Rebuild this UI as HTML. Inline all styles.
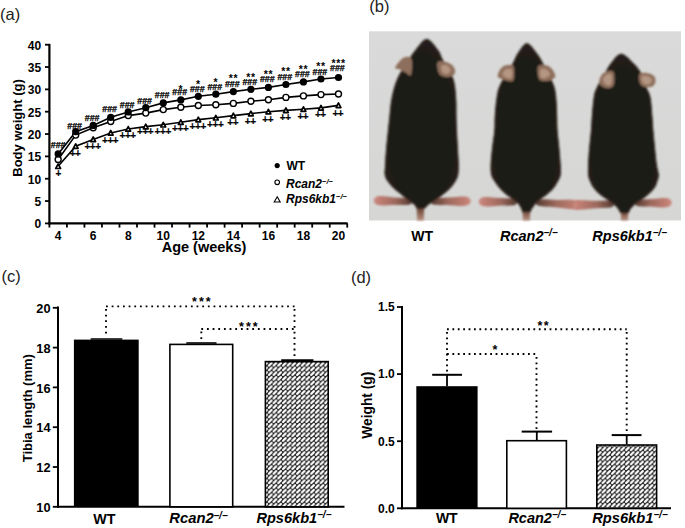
<!DOCTYPE html>
<html><head><meta charset="utf-8"><style>
html,body{margin:0;padding:0;background:#fff;}
svg{display:block;font-family:"Liberation Sans",sans-serif;}
</style></head><body>
<svg width="685" height="528" viewBox="0 0 685 528">
<defs>
<linearGradient id="bg" x1="0" y1="0" x2="0" y2="1">
 <stop offset="0" stop-color="#d9dad9"/><stop offset="1" stop-color="#d6d7d5"/>
</linearGradient>
<radialGradient id="fur" cx="0.5" cy="0.55" r="0.62">
 <stop offset="0" stop-color="#1b1a16"/><stop offset="0.75" stop-color="#1f1c18"/><stop offset="1" stop-color="#2c231e"/>
</radialGradient>
<linearGradient id="foot2" x1="0" y1="0" x2="1" y2="0">
 <stop offset="0" stop-color="#c4877c"/><stop offset="1" stop-color="#9a7166"/>
</linearGradient>
<linearGradient id="foot1" x1="0" y1="0" x2="1" y2="0">
 <stop offset="0" stop-color="#9a7166"/><stop offset="1" stop-color="#c4877c"/>
</linearGradient>
<linearGradient id="tailg" x1="0" y1="0" x2="0" y2="1">
 <stop offset="0" stop-color="#3a2a22"/><stop offset="0.35" stop-color="#6e4a3c"/><stop offset="1" stop-color="#b89080"/>
</linearGradient>
<filter id="soft" x="-10%" y="-10%" width="120%" height="120%"><feGaussianBlur stdDeviation="0.8"/></filter>
<pattern id="hatch" patternUnits="userSpaceOnUse" width="4.7" height="4.7">
 <rect width="4.7" height="4.7" fill="#262626"/>
 <path d="M1.05,3.65 L3.65,1.05" stroke="#fff" stroke-width="2.1" stroke-linecap="round"/>
</pattern>
</defs>
<rect width="685" height="528" fill="#fff"/>
<text x="0.00" y="20.00" font-size="16.5" font-weight="normal" font-style="normal" text-anchor="start" fill="#222" >(a)</text>
<text x="369.30" y="12.10" font-size="16.5" font-weight="normal" font-style="normal" text-anchor="start" fill="#222" >(b)</text>
<text x="1.60" y="282.20" font-size="16.5" font-weight="normal" font-style="normal" text-anchor="start" fill="#222" >(c)</text>
<text x="350.90" y="283.00" font-size="16.5" font-weight="normal" font-style="normal" text-anchor="start" fill="#222" >(d)</text>
<line x1="49.40" y1="43.90" x2="49.40" y2="224.40" stroke="#000" stroke-width="2.2" />
<line x1="48.40" y1="223.40" x2="347.60" y2="223.40" stroke="#000" stroke-width="2.2" />
<line x1="45.00" y1="223.40" x2="49.40" y2="223.40" stroke="#000" stroke-width="1.8" />
<text x="41.20" y="228.40" font-size="12" font-weight="bold" font-style="normal" text-anchor="end" fill="#000" >0</text>
<line x1="45.00" y1="201.06" x2="49.40" y2="201.06" stroke="#000" stroke-width="1.8" />
<text x="41.20" y="206.06" font-size="12" font-weight="bold" font-style="normal" text-anchor="end" fill="#000" >5</text>
<line x1="45.00" y1="178.72" x2="49.40" y2="178.72" stroke="#000" stroke-width="1.8" />
<text x="41.20" y="183.72" font-size="12" font-weight="bold" font-style="normal" text-anchor="end" fill="#000" >10</text>
<line x1="45.00" y1="156.39" x2="49.40" y2="156.39" stroke="#000" stroke-width="1.8" />
<text x="41.20" y="161.39" font-size="12" font-weight="bold" font-style="normal" text-anchor="end" fill="#000" >15</text>
<line x1="45.00" y1="134.05" x2="49.40" y2="134.05" stroke="#000" stroke-width="1.8" />
<text x="41.20" y="139.05" font-size="12" font-weight="bold" font-style="normal" text-anchor="end" fill="#000" >20</text>
<line x1="45.00" y1="111.71" x2="49.40" y2="111.71" stroke="#000" stroke-width="1.8" />
<text x="41.20" y="116.71" font-size="12" font-weight="bold" font-style="normal" text-anchor="end" fill="#000" >25</text>
<line x1="45.00" y1="89.38" x2="49.40" y2="89.38" stroke="#000" stroke-width="1.8" />
<text x="41.20" y="94.38" font-size="12" font-weight="bold" font-style="normal" text-anchor="end" fill="#000" >30</text>
<line x1="45.00" y1="67.04" x2="49.40" y2="67.04" stroke="#000" stroke-width="1.8" />
<text x="41.20" y="72.04" font-size="12" font-weight="bold" font-style="normal" text-anchor="end" fill="#000" >35</text>
<line x1="45.00" y1="44.70" x2="49.40" y2="44.70" stroke="#000" stroke-width="1.8" />
<text x="41.20" y="49.70" font-size="12" font-weight="bold" font-style="normal" text-anchor="end" fill="#000" >40</text>
<line x1="49.40" y1="223.40" x2="49.40" y2="227.60" stroke="#000" stroke-width="1.8" />
<line x1="66.92" y1="223.40" x2="66.92" y2="227.60" stroke="#000" stroke-width="1.8" />
<line x1="84.44" y1="223.40" x2="84.44" y2="227.60" stroke="#000" stroke-width="1.8" />
<line x1="101.96" y1="223.40" x2="101.96" y2="227.60" stroke="#000" stroke-width="1.8" />
<line x1="119.48" y1="223.40" x2="119.48" y2="227.60" stroke="#000" stroke-width="1.8" />
<line x1="137.00" y1="223.40" x2="137.00" y2="227.60" stroke="#000" stroke-width="1.8" />
<line x1="154.52" y1="223.40" x2="154.52" y2="227.60" stroke="#000" stroke-width="1.8" />
<line x1="172.04" y1="223.40" x2="172.04" y2="227.60" stroke="#000" stroke-width="1.8" />
<line x1="189.56" y1="223.40" x2="189.56" y2="227.60" stroke="#000" stroke-width="1.8" />
<line x1="207.08" y1="223.40" x2="207.08" y2="227.60" stroke="#000" stroke-width="1.8" />
<line x1="224.60" y1="223.40" x2="224.60" y2="227.60" stroke="#000" stroke-width="1.8" />
<line x1="242.12" y1="223.40" x2="242.12" y2="227.60" stroke="#000" stroke-width="1.8" />
<line x1="259.64" y1="223.40" x2="259.64" y2="227.60" stroke="#000" stroke-width="1.8" />
<line x1="277.16" y1="223.40" x2="277.16" y2="227.60" stroke="#000" stroke-width="1.8" />
<line x1="294.68" y1="223.40" x2="294.68" y2="227.60" stroke="#000" stroke-width="1.8" />
<line x1="312.20" y1="223.40" x2="312.20" y2="227.60" stroke="#000" stroke-width="1.8" />
<line x1="329.72" y1="223.40" x2="329.72" y2="227.60" stroke="#000" stroke-width="1.8" />
<line x1="347.24" y1="223.40" x2="347.24" y2="227.60" stroke="#000" stroke-width="1.8" />
<text x="58.16" y="239.90" font-size="12" font-weight="bold" font-style="normal" text-anchor="middle" fill="#000" >4</text>
<text x="93.20" y="239.90" font-size="12" font-weight="bold" font-style="normal" text-anchor="middle" fill="#000" >6</text>
<text x="128.24" y="239.90" font-size="12" font-weight="bold" font-style="normal" text-anchor="middle" fill="#000" >8</text>
<text x="163.28" y="239.90" font-size="12" font-weight="bold" font-style="normal" text-anchor="middle" fill="#000" >10</text>
<text x="198.32" y="239.90" font-size="12" font-weight="bold" font-style="normal" text-anchor="middle" fill="#000" >12</text>
<text x="233.36" y="239.90" font-size="12" font-weight="bold" font-style="normal" text-anchor="middle" fill="#000" >14</text>
<text x="268.40" y="239.90" font-size="12" font-weight="bold" font-style="normal" text-anchor="middle" fill="#000" >16</text>
<text x="303.44" y="239.90" font-size="12" font-weight="bold" font-style="normal" text-anchor="middle" fill="#000" >18</text>
<text x="338.48" y="239.90" font-size="12" font-weight="bold" font-style="normal" text-anchor="middle" fill="#000" >20</text>
<text x="204.00" y="251.60" font-size="14.5" font-weight="bold" font-style="normal" text-anchor="middle" fill="#000" >Age (weeks)</text>
<text transform="translate(22.2,128) rotate(-90)" font-size="13" font-weight="bold" text-anchor="middle">Body weight (g)</text>
<polyline points="58.16,166.30 75.68,146.20 93.20,139.40 110.72,132.90 128.24,129.00 145.76,126.60 163.28,124.80 180.80,122.20 198.32,119.60 215.84,117.80 233.36,115.60 250.88,113.60 268.40,111.70 285.92,110.40 303.44,109.20 320.96,107.90 338.48,105.40" fill="none" stroke="#000" stroke-width="1.6"/>
<polyline points="58.16,159.50 75.68,135.10 93.20,127.80 110.72,121.50 128.24,115.60 145.76,113.10 163.28,109.60 180.80,107.30 198.32,105.50 215.84,104.70 233.36,103.40 250.88,101.20 268.40,99.70 285.92,97.40 303.44,95.90 320.96,94.60 338.48,94.00" fill="none" stroke="#000" stroke-width="1.6"/>
<polyline points="58.16,153.90 75.68,131.70 93.20,125.40 110.72,117.30 128.24,111.90 145.76,107.70 163.28,102.90 180.80,99.90 198.32,96.30 215.84,94.20 233.36,91.60 250.88,89.30 268.40,87.40 285.92,84.50 303.44,81.90 320.96,79.00 338.48,77.50" fill="none" stroke="#000" stroke-width="1.6"/>
<path d="M58.16,163.90 L60.56,168.50 L55.76,168.50 Z" fill="#fff" stroke="#000" stroke-width="1.7" stroke-linejoin="round"/>
<path d="M75.68,143.80 L78.08,148.40 L73.28,148.40 Z" fill="#fff" stroke="#000" stroke-width="1.7" stroke-linejoin="round"/>
<path d="M93.20,137.00 L95.60,141.60 L90.80,141.60 Z" fill="#fff" stroke="#000" stroke-width="1.7" stroke-linejoin="round"/>
<path d="M110.72,130.50 L113.12,135.10 L108.32,135.10 Z" fill="#fff" stroke="#000" stroke-width="1.7" stroke-linejoin="round"/>
<path d="M128.24,126.60 L130.64,131.20 L125.84,131.20 Z" fill="#fff" stroke="#000" stroke-width="1.7" stroke-linejoin="round"/>
<path d="M145.76,124.20 L148.16,128.80 L143.36,128.80 Z" fill="#fff" stroke="#000" stroke-width="1.7" stroke-linejoin="round"/>
<path d="M163.28,122.40 L165.68,127.00 L160.88,127.00 Z" fill="#fff" stroke="#000" stroke-width="1.7" stroke-linejoin="round"/>
<path d="M180.80,119.80 L183.20,124.40 L178.40,124.40 Z" fill="#fff" stroke="#000" stroke-width="1.7" stroke-linejoin="round"/>
<path d="M198.32,117.20 L200.72,121.80 L195.92,121.80 Z" fill="#fff" stroke="#000" stroke-width="1.7" stroke-linejoin="round"/>
<path d="M215.84,115.40 L218.24,120.00 L213.44,120.00 Z" fill="#fff" stroke="#000" stroke-width="1.7" stroke-linejoin="round"/>
<path d="M233.36,113.20 L235.76,117.80 L230.96,117.80 Z" fill="#fff" stroke="#000" stroke-width="1.7" stroke-linejoin="round"/>
<path d="M250.88,111.20 L253.28,115.80 L248.48,115.80 Z" fill="#fff" stroke="#000" stroke-width="1.7" stroke-linejoin="round"/>
<path d="M268.40,109.30 L270.80,113.90 L266.00,113.90 Z" fill="#fff" stroke="#000" stroke-width="1.7" stroke-linejoin="round"/>
<path d="M285.92,108.00 L288.32,112.60 L283.52,112.60 Z" fill="#fff" stroke="#000" stroke-width="1.7" stroke-linejoin="round"/>
<path d="M303.44,106.80 L305.84,111.40 L301.04,111.40 Z" fill="#fff" stroke="#000" stroke-width="1.7" stroke-linejoin="round"/>
<path d="M320.96,105.50 L323.36,110.10 L318.56,110.10 Z" fill="#fff" stroke="#000" stroke-width="1.7" stroke-linejoin="round"/>
<path d="M338.48,103.00 L340.88,107.60 L336.08,107.60 Z" fill="#fff" stroke="#000" stroke-width="1.7" stroke-linejoin="round"/>
<circle cx="58.16" cy="159.50" r="3.0" fill="#fff" stroke="#000" stroke-width="1.4"/>
<circle cx="75.68" cy="135.10" r="3.0" fill="#fff" stroke="#000" stroke-width="1.4"/>
<circle cx="93.20" cy="127.80" r="3.0" fill="#fff" stroke="#000" stroke-width="1.4"/>
<circle cx="110.72" cy="121.50" r="3.0" fill="#fff" stroke="#000" stroke-width="1.4"/>
<circle cx="128.24" cy="115.60" r="3.0" fill="#fff" stroke="#000" stroke-width="1.4"/>
<circle cx="145.76" cy="113.10" r="3.0" fill="#fff" stroke="#000" stroke-width="1.4"/>
<circle cx="163.28" cy="109.60" r="3.0" fill="#fff" stroke="#000" stroke-width="1.4"/>
<circle cx="180.80" cy="107.30" r="3.0" fill="#fff" stroke="#000" stroke-width="1.4"/>
<circle cx="198.32" cy="105.50" r="3.0" fill="#fff" stroke="#000" stroke-width="1.4"/>
<circle cx="215.84" cy="104.70" r="3.0" fill="#fff" stroke="#000" stroke-width="1.4"/>
<circle cx="233.36" cy="103.40" r="3.0" fill="#fff" stroke="#000" stroke-width="1.4"/>
<circle cx="250.88" cy="101.20" r="3.0" fill="#fff" stroke="#000" stroke-width="1.4"/>
<circle cx="268.40" cy="99.70" r="3.0" fill="#fff" stroke="#000" stroke-width="1.4"/>
<circle cx="285.92" cy="97.40" r="3.0" fill="#fff" stroke="#000" stroke-width="1.4"/>
<circle cx="303.44" cy="95.90" r="3.0" fill="#fff" stroke="#000" stroke-width="1.4"/>
<circle cx="320.96" cy="94.60" r="3.0" fill="#fff" stroke="#000" stroke-width="1.4"/>
<circle cx="338.48" cy="94.00" r="3.0" fill="#fff" stroke="#000" stroke-width="1.4"/>
<circle cx="58.16" cy="153.90" r="3.6" fill="#000"/>
<circle cx="75.68" cy="131.70" r="3.6" fill="#000"/>
<circle cx="93.20" cy="125.40" r="3.6" fill="#000"/>
<circle cx="110.72" cy="117.30" r="3.6" fill="#000"/>
<circle cx="128.24" cy="111.90" r="3.6" fill="#000"/>
<circle cx="145.76" cy="107.70" r="3.6" fill="#000"/>
<circle cx="163.28" cy="102.90" r="3.6" fill="#000"/>
<circle cx="180.80" cy="99.90" r="3.6" fill="#000"/>
<circle cx="198.32" cy="96.30" r="3.6" fill="#000"/>
<circle cx="215.84" cy="94.20" r="3.6" fill="#000"/>
<circle cx="233.36" cy="91.60" r="3.6" fill="#000"/>
<circle cx="250.88" cy="89.30" r="3.6" fill="#000"/>
<circle cx="268.40" cy="87.40" r="3.6" fill="#000"/>
<circle cx="285.92" cy="84.50" r="3.6" fill="#000"/>
<circle cx="303.44" cy="81.90" r="3.6" fill="#000"/>
<circle cx="320.96" cy="79.00" r="3.6" fill="#000"/>
<circle cx="338.48" cy="77.50" r="3.6" fill="#000"/>
<text x="58.16" y="148.40" font-size="8.8" font-weight="bold" font-style="normal" text-anchor="middle" fill="#000" stroke="#000" stroke-width="0.25">###</text>
<text x="74.58" y="128.80" font-size="8.8" font-weight="bold" font-style="normal" text-anchor="middle" fill="#000" stroke="#000" stroke-width="0.25">###</text>
<text x="92.10" y="120.60" font-size="8.8" font-weight="bold" font-style="normal" text-anchor="middle" fill="#000" stroke="#000" stroke-width="0.25">###</text>
<text x="109.62" y="112.10" font-size="8.8" font-weight="bold" font-style="normal" text-anchor="middle" fill="#000" stroke="#000" stroke-width="0.25">###</text>
<text x="127.14" y="107.50" font-size="8.8" font-weight="bold" font-style="normal" text-anchor="middle" fill="#000" stroke="#000" stroke-width="0.25">###</text>
<text x="144.66" y="103.60" font-size="8.8" font-weight="bold" font-style="normal" text-anchor="middle" fill="#000" stroke="#000" stroke-width="0.25">###</text>
<text x="162.18" y="98.00" font-size="8.8" font-weight="bold" font-style="normal" text-anchor="middle" fill="#000" stroke="#000" stroke-width="0.25">###</text>
<text x="179.70" y="95.10" font-size="8.8" font-weight="bold" font-style="normal" text-anchor="middle" fill="#000" stroke="#000" stroke-width="0.25">###</text>
<text x="197.22" y="91.60" font-size="8.8" font-weight="bold" font-style="normal" text-anchor="middle" fill="#000" stroke="#000" stroke-width="0.25">###</text>
<text x="214.74" y="89.60" font-size="8.8" font-weight="bold" font-style="normal" text-anchor="middle" fill="#000" stroke="#000" stroke-width="0.25">###</text>
<text x="232.26" y="87.00" font-size="8.8" font-weight="bold" font-style="normal" text-anchor="middle" fill="#000" stroke="#000" stroke-width="0.25">###</text>
<text x="249.78" y="84.90" font-size="8.8" font-weight="bold" font-style="normal" text-anchor="middle" fill="#000" stroke="#000" stroke-width="0.25">###</text>
<text x="267.30" y="82.40" font-size="8.8" font-weight="bold" font-style="normal" text-anchor="middle" fill="#000" stroke="#000" stroke-width="0.25">###</text>
<text x="284.82" y="79.60" font-size="8.8" font-weight="bold" font-style="normal" text-anchor="middle" fill="#000" stroke="#000" stroke-width="0.25">###</text>
<text x="302.34" y="76.70" font-size="8.8" font-weight="bold" font-style="normal" text-anchor="middle" fill="#000" stroke="#000" stroke-width="0.25">###</text>
<text x="319.86" y="74.80" font-size="8.8" font-weight="bold" font-style="normal" text-anchor="middle" fill="#000" stroke="#000" stroke-width="0.25">###</text>
<text x="337.38" y="71.00" font-size="8.8" font-weight="bold" font-style="normal" text-anchor="middle" fill="#000" stroke="#000" stroke-width="0.25">###</text>
<text x="180.90" y="92.50" font-size="10.5" font-weight="bold" font-style="normal" text-anchor="middle" fill="#000" letter-spacing="0.6">*</text>
<text x="198.42" y="88.10" font-size="10.5" font-weight="bold" font-style="normal" text-anchor="middle" fill="#000" letter-spacing="0.6">*</text>
<text x="215.94" y="86.30" font-size="10.5" font-weight="bold" font-style="normal" text-anchor="middle" fill="#000" letter-spacing="0.6">*</text>
<text x="233.46" y="82.40" font-size="10.5" font-weight="bold" font-style="normal" text-anchor="middle" fill="#000" letter-spacing="0.6">**</text>
<text x="250.98" y="80.50" font-size="10.5" font-weight="bold" font-style="normal" text-anchor="middle" fill="#000" letter-spacing="0.6">**</text>
<text x="268.50" y="78.10" font-size="10.5" font-weight="bold" font-style="normal" text-anchor="middle" fill="#000" letter-spacing="0.6">**</text>
<text x="286.02" y="75.20" font-size="10.5" font-weight="bold" font-style="normal" text-anchor="middle" fill="#000" letter-spacing="0.6">**</text>
<text x="303.54" y="72.80" font-size="10.5" font-weight="bold" font-style="normal" text-anchor="middle" fill="#000" letter-spacing="0.6">**</text>
<text x="321.06" y="70.10" font-size="10.5" font-weight="bold" font-style="normal" text-anchor="middle" fill="#000" letter-spacing="0.6">**</text>
<text x="338.58" y="67.10" font-size="10.5" font-weight="bold" font-style="normal" text-anchor="middle" fill="#000" letter-spacing="0.6">***</text>
<text x="58.16" y="177.10" font-size="10" font-weight="bold" font-style="normal" text-anchor="middle" fill="#000" letter-spacing="-0.4" stroke="#000" stroke-width="0.2">+</text>
<text x="75.08" y="156.60" font-size="10" font-weight="bold" font-style="normal" text-anchor="middle" fill="#000" letter-spacing="-0.4" stroke="#000" stroke-width="0.2">++</text>
<text x="92.60" y="149.80" font-size="10" font-weight="bold" font-style="normal" text-anchor="middle" fill="#000" letter-spacing="-0.4" stroke="#000" stroke-width="0.2">+++</text>
<text x="110.12" y="143.90" font-size="10" font-weight="bold" font-style="normal" text-anchor="middle" fill="#000" letter-spacing="-0.4" stroke="#000" stroke-width="0.2">+++</text>
<text x="127.64" y="139.30" font-size="10" font-weight="bold" font-style="normal" text-anchor="middle" fill="#000" letter-spacing="-0.4" stroke="#000" stroke-width="0.2">+++</text>
<text x="145.16" y="135.40" font-size="10" font-weight="bold" font-style="normal" text-anchor="middle" fill="#000" letter-spacing="-0.4" stroke="#000" stroke-width="0.2">+++</text>
<text x="162.68" y="134.60" font-size="10" font-weight="bold" font-style="normal" text-anchor="middle" fill="#000" letter-spacing="-0.4" stroke="#000" stroke-width="0.2">+++</text>
<text x="180.20" y="132.05" font-size="10" font-weight="bold" font-style="normal" text-anchor="middle" fill="#000" letter-spacing="-0.4" stroke="#000" stroke-width="0.2">+++</text>
<text x="197.72" y="129.70" font-size="10" font-weight="bold" font-style="normal" text-anchor="middle" fill="#000" letter-spacing="-0.4" stroke="#000" stroke-width="0.2">+++</text>
<text x="215.24" y="128.05" font-size="10" font-weight="bold" font-style="normal" text-anchor="middle" fill="#000" letter-spacing="-0.4" stroke="#000" stroke-width="0.2">+++</text>
<text x="232.76" y="126.40" font-size="10" font-weight="bold" font-style="normal" text-anchor="middle" fill="#000" letter-spacing="-0.4" stroke="#000" stroke-width="0.2">++</text>
<text x="250.28" y="125.20" font-size="10" font-weight="bold" font-style="normal" text-anchor="middle" fill="#000" letter-spacing="-0.4" stroke="#000" stroke-width="0.2">++</text>
<text x="267.80" y="122.90" font-size="10" font-weight="bold" font-style="normal" text-anchor="middle" fill="#000" letter-spacing="-0.4" stroke="#000" stroke-width="0.2">++</text>
<text x="285.32" y="121.40" font-size="10" font-weight="bold" font-style="normal" text-anchor="middle" fill="#000" letter-spacing="-0.4" stroke="#000" stroke-width="0.2">++</text>
<text x="302.84" y="120.10" font-size="10" font-weight="bold" font-style="normal" text-anchor="middle" fill="#000" letter-spacing="-0.4" stroke="#000" stroke-width="0.2">++</text>
<text x="320.36" y="118.20" font-size="10" font-weight="bold" font-style="normal" text-anchor="middle" fill="#000" letter-spacing="-0.4" stroke="#000" stroke-width="0.2">++</text>
<text x="337.88" y="117.20" font-size="10" font-weight="bold" font-style="normal" text-anchor="middle" fill="#000" letter-spacing="-0.4" stroke="#000" stroke-width="0.2">++</text>
<circle cx="277.2" cy="165.6" r="2.6" fill="#000"/>
<circle cx="277.2" cy="182.3" r="2.3" fill="#fff" stroke="#000" stroke-width="1.1"/>
<path d="M277.2,196.8 L280.2,202.0 L274.2,202.0 Z" fill="#fff" stroke="#000" stroke-width="1.1"/>
<text x="286.50" y="170.10" font-size="12" font-weight="bold" font-style="normal" text-anchor="start" fill="#000" >WT</text>
<text x="286.00" y="187.80" font-size="12" font-weight="bold" font-style="italic" text-anchor="start" fill="#000" >Rcan2<tspan font-size="7.5" dy="-4.2">−/−</tspan></text>
<text x="286.00" y="203.20" font-size="12" font-weight="bold" font-style="italic" text-anchor="start" fill="#000" >Rps6kb1<tspan font-size="7.5" dy="-4.2">−/−</tspan></text>
<rect x="369" y="31.3" width="312" height="189.2" fill="url(#bg)"/>
<g filter="url(#soft)">
<path d="M416.5,203.0 L424.4,203.0 L423.8,220.5 L417.1,220.5 Z" fill="url(#tailg)"/>
<linearGradient id="ft2" gradientUnits="userSpaceOnUse" x1="410.0" y1="201.5" x2="374.5" y2="200.5"><stop offset="0" stop-color="#5a3e34"/><stop offset="0.4" stop-color="#9c685c"/><stop offset="0.85" stop-color="#c07d72"/><stop offset="1" stop-color="#c98a80"/></linearGradient>
<path d="M410.0,198.5 C407.3,197.3 398.8,197.8 394.0,197.4 C389.3,197.0 384.6,196.2 381.6,196.1 C378.6,196.0 377.2,196.2 375.9,196.9 C374.6,197.7 373.7,199.3 373.7,200.5 C373.7,201.7 374.6,203.5 375.9,204.3 C377.2,205.2 378.6,205.4 381.6,205.5 C384.6,205.6 389.3,205.1 394.0,205.0 C398.8,204.8 407.3,205.6 410.0,204.5 C412.7,203.4 412.7,199.7 410.0,198.5 Z" fill="url(#ft2)"/>
<linearGradient id="ft3" gradientUnits="userSpaceOnUse" x1="433.0" y1="201.5" x2="470.0" y2="201.0"><stop offset="0" stop-color="#5a3e34"/><stop offset="0.4" stop-color="#9c685c"/><stop offset="0.85" stop-color="#c07d72"/><stop offset="1" stop-color="#c98a80"/></linearGradient>
<path d="M433.0,198.5 C435.8,197.3 444.7,197.9 449.6,197.6 C454.6,197.2 459.5,196.5 462.6,196.5 C465.7,196.5 467.2,196.7 468.5,197.4 C469.9,198.2 470.8,199.8 470.8,201.0 C470.8,202.2 469.9,204.0 468.5,204.8 C467.2,205.6 465.7,205.8 462.6,205.9 C459.5,206.0 454.6,205.4 449.6,205.2 C444.7,204.9 435.8,205.6 433.0,204.5 C430.2,203.4 430.2,199.7 433.0,198.5 Z" fill="url(#ft3)"/>
<clipPath id="mc1"><path d="M426.7,39.0 C430.5,39.0 435.4,46.5 438.1,49.9 C440.8,53.3 440.3,54.7 442.8,59.4 C445.3,64.1 451.0,72.0 453.2,78.3 C455.4,84.6 455.6,91.0 456.1,97.3 C456.7,103.6 456.4,110.7 456.5,116.2 C456.6,121.7 456.8,125.0 457.0,130.5 C457.2,136.0 457.7,143.7 458.0,149.4 C458.3,155.2 458.8,160.7 458.8,165.0 C458.8,169.3 458.7,172.3 458.2,175.0 C457.7,177.7 456.8,179.0 455.7,181.1 C454.6,183.2 453.2,185.2 451.3,187.3 C449.4,189.4 446.8,191.6 444.5,193.5 C442.2,195.4 439.8,197.1 437.7,198.5 C435.6,199.9 433.9,201.0 432.1,202.2 C430.3,203.4 428.4,204.8 427.1,205.9 C425.8,207.0 425.8,208.2 424.1,208.6 C422.4,209.0 418.2,209.0 416.8,208.6 C415.4,208.2 416.4,207.0 415.4,205.9 C414.4,204.8 412.6,203.4 411.0,202.2 C409.4,201.0 407.9,199.9 406.0,198.5 C404.1,197.1 402.2,195.4 399.9,193.5 C397.6,191.6 394.5,189.4 392.4,187.3 C390.3,185.2 388.7,183.2 387.4,181.1 C386.1,179.0 385.1,177.7 384.7,175.0 C384.3,172.3 384.8,169.3 385.0,165.0 C385.2,160.7 385.5,155.2 386.0,149.4 C386.5,143.7 387.3,136.0 387.9,130.5 C388.5,125.0 388.8,121.7 389.4,116.2 C390.0,110.7 390.4,103.6 391.7,97.3 C393.0,91.0 394.6,84.5 397.4,78.3 C400.2,72.1 405.5,64.7 408.5,60.0 C411.5,55.3 412.4,53.4 415.4,49.9 C418.4,46.4 422.9,39.0 426.7,39.0 Z"/></clipPath>
<path d="M426.7,39.0 C430.5,39.0 435.4,46.5 438.1,49.9 C440.8,53.3 440.3,54.7 442.8,59.4 C445.3,64.1 451.0,72.0 453.2,78.3 C455.4,84.6 455.6,91.0 456.1,97.3 C456.7,103.6 456.4,110.7 456.5,116.2 C456.6,121.7 456.8,125.0 457.0,130.5 C457.2,136.0 457.7,143.7 458.0,149.4 C458.3,155.2 458.8,160.7 458.8,165.0 C458.8,169.3 458.7,172.3 458.2,175.0 C457.7,177.7 456.8,179.0 455.7,181.1 C454.6,183.2 453.2,185.2 451.3,187.3 C449.4,189.4 446.8,191.6 444.5,193.5 C442.2,195.4 439.8,197.1 437.7,198.5 C435.6,199.9 433.9,201.0 432.1,202.2 C430.3,203.4 428.4,204.8 427.1,205.9 C425.8,207.0 425.8,208.2 424.1,208.6 C422.4,209.0 418.2,209.0 416.8,208.6 C415.4,208.2 416.4,207.0 415.4,205.9 C414.4,204.8 412.6,203.4 411.0,202.2 C409.4,201.0 407.9,199.9 406.0,198.5 C404.1,197.1 402.2,195.4 399.9,193.5 C397.6,191.6 394.5,189.4 392.4,187.3 C390.3,185.2 388.7,183.2 387.4,181.1 C386.1,179.0 385.1,177.7 384.7,175.0 C384.3,172.3 384.8,169.3 385.0,165.0 C385.2,160.7 385.5,155.2 386.0,149.4 C386.5,143.7 387.3,136.0 387.9,130.5 C388.5,125.0 388.8,121.7 389.4,116.2 C390.0,110.7 390.4,103.6 391.7,97.3 C393.0,91.0 394.6,84.5 397.4,78.3 C400.2,72.1 405.5,64.7 408.5,60.0 C411.5,55.3 412.4,53.4 415.4,49.9 C418.4,46.4 422.9,39.0 426.7,39.0 Z" fill="url(#fur)" stroke="#2b221c" stroke-width="4" clip-path="url(#mc1)"/>
<path d="M411.5,59.0 C410.4,56.0 406.6,56.7 404.5,57.2 C402.4,57.7 400.5,60.2 399.0,62.0 C397.5,63.8 395.1,66.8 395.3,68.0 C395.5,69.2 398.3,68.8 400.0,69.5 C401.7,70.2 403.7,71.6 405.5,72.5 C407.3,73.4 410.0,77.2 411.0,75.0 C412.0,72.8 412.6,62.0 411.5,59.0 Z" fill="#8e6e5c"/>
<path d="M437.5,62.5 C438.5,60.5 442.6,61.4 445.0,61.8 C447.4,62.2 450.3,63.5 452.0,65.0 C453.7,66.5 455.1,69.2 455.2,71.0 C455.3,72.8 454.2,75.0 452.5,76.0 C450.8,77.0 447.2,77.4 445.0,77.0 C442.8,76.6 440.2,75.9 439.0,73.5 C437.8,71.1 436.5,64.5 437.5,62.5 Z" fill="#8e6e5c"/>
<path d="M441.5,66.0 C442.2,64.9 445.5,64.8 447.0,65.5 C448.5,66.2 450.5,68.6 450.5,70.0 C450.5,71.4 448.3,73.7 447.0,74.0 C445.7,74.3 443.4,73.3 442.5,72.0 C441.6,70.7 440.8,67.1 441.5,66.0 Z" fill="#b89a86" opacity="0.9"/>
</g>
<g filter="url(#soft)">
<path d="M522.3,206.0 L530.5,206.0 L529.9,220.5 L522.9,220.5 Z" fill="url(#tailg)"/>
<linearGradient id="ft5" gradientUnits="userSpaceOnUse" x1="515.0" y1="202.0" x2="479.5" y2="201.5"><stop offset="0" stop-color="#5a3e34"/><stop offset="0.4" stop-color="#9c685c"/><stop offset="0.85" stop-color="#c07d72"/><stop offset="1" stop-color="#c98a80"/></linearGradient>
<path d="M515.0,199.0 C512.3,197.8 503.8,198.4 499.0,198.1 C494.3,197.7 489.6,197.0 486.6,197.0 C483.6,197.0 482.2,197.2 480.9,197.9 C479.6,198.7 478.7,200.3 478.7,201.5 C478.7,202.7 479.6,204.5 480.9,205.3 C482.2,206.1 483.6,206.3 486.6,206.4 C489.6,206.5 494.3,205.9 499.0,205.7 C503.8,205.4 512.3,206.1 515.0,205.0 C517.7,203.9 517.7,200.2 515.0,199.0 Z" fill="url(#ft5)"/>
<linearGradient id="ft6" gradientUnits="userSpaceOnUse" x1="538.0" y1="202.5" x2="581.5" y2="205.0"><stop offset="0" stop-color="#5a3e34"/><stop offset="0.4" stop-color="#9c685c"/><stop offset="0.85" stop-color="#c07d72"/><stop offset="1" stop-color="#c98a80"/></linearGradient>
<path d="M538.0,199.5 C541.3,198.6 551.8,199.9 557.6,199.9 C563.4,200.0 569.1,199.7 572.8,199.9 C576.5,200.1 578.2,200.5 579.8,201.3 C581.3,202.2 582.3,203.8 582.3,205.0 C582.3,206.2 581.3,208.0 579.8,208.7 C578.2,209.4 576.5,209.5 572.8,209.3 C569.1,209.1 563.4,208.2 557.6,207.5 C551.8,206.9 541.3,206.8 538.0,205.5 C534.7,204.2 534.7,200.4 538.0,199.5 Z" fill="url(#ft6)"/>
<clipPath id="mc4"><path d="M526.9,43.3 C530.2,43.3 534.6,50.4 537.3,53.7 C540.0,57.0 540.3,58.2 543.0,63.2 C545.7,68.2 551.2,78.3 553.4,84.0 C555.6,89.7 555.6,91.9 556.2,97.3 C556.8,102.7 557.0,110.7 557.2,116.2 C557.4,121.7 557.2,125.0 557.6,130.5 C558.0,136.0 559.0,143.7 559.5,149.4 C560.0,155.2 560.5,160.8 560.7,165.0 C560.9,169.2 561.1,172.2 560.7,174.9 C560.3,177.6 559.2,179.0 558.2,181.1 C557.2,183.2 556.1,185.2 554.5,187.3 C552.9,189.4 550.5,191.6 548.3,193.5 C546.1,195.4 543.4,197.1 541.5,198.5 C539.6,199.9 538.4,201.0 537.1,202.2 C535.9,203.4 534.9,204.7 534.0,205.9 C533.1,207.1 532.1,208.6 531.5,209.6 C530.9,210.6 531.7,211.6 530.2,212.0 C528.7,212.4 524.0,212.4 522.6,212.0 C521.2,211.6 522.1,210.6 521.6,209.6 C521.1,208.6 520.5,207.1 519.7,205.9 C518.9,204.7 517.9,203.4 516.6,202.2 C515.3,201.0 513.6,199.9 511.7,198.5 C509.8,197.1 507.1,195.4 504.9,193.5 C502.7,191.6 500.4,189.4 498.6,187.3 C496.8,185.2 495.5,183.2 494.3,181.1 C493.1,179.0 491.8,177.6 491.2,174.9 C490.6,172.2 490.5,169.2 490.6,165.0 C490.7,160.8 491.3,155.2 491.9,149.4 C492.5,143.7 493.8,136.0 494.3,130.5 C494.8,125.0 494.3,121.7 494.7,116.2 C495.1,110.7 495.7,102.7 496.6,97.3 C497.6,91.9 497.7,89.7 500.4,84.0 C503.1,78.3 509.9,68.2 512.7,63.2 C515.5,58.2 515.0,57.0 517.4,53.7 C519.8,50.4 523.6,43.3 526.9,43.3 Z"/></clipPath>
<path d="M526.9,43.3 C530.2,43.3 534.6,50.4 537.3,53.7 C540.0,57.0 540.3,58.2 543.0,63.2 C545.7,68.2 551.2,78.3 553.4,84.0 C555.6,89.7 555.6,91.9 556.2,97.3 C556.8,102.7 557.0,110.7 557.2,116.2 C557.4,121.7 557.2,125.0 557.6,130.5 C558.0,136.0 559.0,143.7 559.5,149.4 C560.0,155.2 560.5,160.8 560.7,165.0 C560.9,169.2 561.1,172.2 560.7,174.9 C560.3,177.6 559.2,179.0 558.2,181.1 C557.2,183.2 556.1,185.2 554.5,187.3 C552.9,189.4 550.5,191.6 548.3,193.5 C546.1,195.4 543.4,197.1 541.5,198.5 C539.6,199.9 538.4,201.0 537.1,202.2 C535.9,203.4 534.9,204.7 534.0,205.9 C533.1,207.1 532.1,208.6 531.5,209.6 C530.9,210.6 531.7,211.6 530.2,212.0 C528.7,212.4 524.0,212.4 522.6,212.0 C521.2,211.6 522.1,210.6 521.6,209.6 C521.1,208.6 520.5,207.1 519.7,205.9 C518.9,204.7 517.9,203.4 516.6,202.2 C515.3,201.0 513.6,199.9 511.7,198.5 C509.8,197.1 507.1,195.4 504.9,193.5 C502.7,191.6 500.4,189.4 498.6,187.3 C496.8,185.2 495.5,183.2 494.3,181.1 C493.1,179.0 491.8,177.6 491.2,174.9 C490.6,172.2 490.5,169.2 490.6,165.0 C490.7,160.8 491.3,155.2 491.9,149.4 C492.5,143.7 493.8,136.0 494.3,130.5 C494.8,125.0 494.3,121.7 494.7,116.2 C495.1,110.7 495.7,102.7 496.6,97.3 C497.6,91.9 497.7,89.7 500.4,84.0 C503.1,78.3 509.9,68.2 512.7,63.2 C515.5,58.2 515.0,57.0 517.4,53.7 C519.8,50.4 523.6,43.3 526.9,43.3 Z" fill="url(#fur)" stroke="#2b221c" stroke-width="4" clip-path="url(#mc4)"/>
<path d="M513.5,66.5 C512.2,64.0 508.2,64.9 506.0,65.3 C503.8,65.7 501.9,67.1 500.5,69.0 C499.1,70.9 497.4,74.8 497.7,76.5 C497.9,78.2 500.3,78.2 502.0,79.0 C503.7,79.8 506.1,80.8 508.0,81.0 C509.9,81.2 512.6,82.4 513.5,80.0 C514.4,77.6 514.8,69.0 513.5,66.5 Z" fill="#8e6e5c"/>
<path d="M511.5,69.5 C510.5,68.2 507.0,68.7 505.5,69.5 C504.0,70.3 502.2,73.1 502.5,74.5 C502.8,75.9 505.5,77.5 507.0,78.0 C508.5,78.5 510.8,78.9 511.5,77.5 C512.2,76.1 512.5,70.8 511.5,69.5 Z" fill="#b89a86" opacity="0.9"/>
<path d="M538.0,66.5 C539.2,64.2 543.7,64.9 546.0,65.3 C548.3,65.7 550.5,67.1 552.0,69.0 C553.5,70.9 555.5,74.7 555.3,76.5 C555.1,78.3 552.7,79.2 551.0,80.0 C549.3,80.8 547.0,81.2 545.0,81.0 C543.0,80.8 540.2,81.4 539.0,79.0 C537.8,76.6 536.8,68.8 538.0,66.5 Z" fill="#8e6e5c"/>
<path d="M540.5,69.5 C541.5,68.2 544.9,68.7 546.5,69.5 C548.1,70.3 550.2,73.1 550.0,74.5 C549.8,75.9 546.6,77.6 545.0,78.0 C543.4,78.4 541.2,78.4 540.5,77.0 C539.8,75.6 539.5,70.8 540.5,69.5 Z" fill="#b89a86" opacity="0.9"/>
</g>
<g filter="url(#soft)">
<path d="M620.5,207.0 L628.5,207.0 L627.9,220.5 L621.1,220.5 Z" fill="url(#tailg)"/>
<linearGradient id="ft8" gradientUnits="userSpaceOnUse" x1="612.0" y1="204.0" x2="574.0" y2="205.0"><stop offset="0" stop-color="#5a3e34"/><stop offset="0.4" stop-color="#9c685c"/><stop offset="0.85" stop-color="#c07d72"/><stop offset="1" stop-color="#c98a80"/></linearGradient>
<path d="M612.0,201.0 C609.1,200.0 600.0,200.9 594.9,200.8 C589.8,200.6 584.8,200.1 581.6,200.2 C578.4,200.3 576.9,200.6 575.5,201.4 C574.1,202.2 573.2,203.8 573.2,205.0 C573.2,206.2 574.1,208.0 575.5,208.8 C576.9,209.5 578.4,209.7 581.6,209.6 C584.8,209.5 589.8,208.8 594.9,208.3 C600.0,207.9 609.1,208.2 612.0,207.0 C614.9,205.8 614.9,202.0 612.0,201.0 Z" fill="url(#ft8)"/>
<linearGradient id="ft9" gradientUnits="userSpaceOnUse" x1="637.0" y1="203.0" x2="671.0" y2="202.5"><stop offset="0" stop-color="#5a3e34"/><stop offset="0.4" stop-color="#9c685c"/><stop offset="0.85" stop-color="#c07d72"/><stop offset="1" stop-color="#c98a80"/></linearGradient>
<path d="M637.0,200.0 C639.5,198.8 647.8,199.4 652.3,199.1 C656.8,198.7 661.3,198.0 664.2,198.0 C667.1,198.0 668.4,198.2 669.6,198.9 C670.9,199.7 671.8,201.3 671.8,202.5 C671.8,203.7 670.9,205.5 669.6,206.3 C668.4,207.1 667.1,207.3 664.2,207.4 C661.3,207.5 656.8,206.9 652.3,206.7 C647.8,206.4 639.5,207.1 637.0,206.0 C634.5,204.9 634.5,201.2 637.0,200.0 Z" fill="url(#ft9)"/>
<clipPath id="mc7"><path d="M621.2,53.7 C625.0,53.7 630.2,60.0 633.5,63.2 C636.8,66.4 638.8,68.6 641.0,72.7 C643.2,76.8 645.1,83.7 646.7,87.8 C648.3,91.9 649.5,92.6 650.5,97.3 C651.5,102.0 651.9,110.7 652.4,116.2 C652.9,121.7 652.9,125.0 653.4,130.5 C653.9,136.0 654.6,143.7 655.2,149.4 C655.8,155.2 656.3,160.8 656.9,165.0 C657.5,169.2 658.7,172.2 658.8,174.9 C658.9,177.6 658.1,179.0 657.5,181.1 C656.9,183.2 656.4,185.2 655.1,187.3 C653.8,189.4 651.5,191.6 649.5,193.5 C647.5,195.4 645.3,197.1 643.3,198.5 C641.3,199.9 639.4,201.0 637.7,202.2 C636.0,203.4 634.5,204.7 633.3,205.9 C632.0,207.1 631.1,208.4 630.2,209.6 C629.4,210.8 629.8,212.4 628.2,213.0 C626.6,213.6 622.4,213.6 620.8,213.0 C619.2,212.4 619.4,210.8 618.5,209.6 C617.6,208.4 616.6,207.1 615.4,205.9 C614.1,204.7 612.7,203.4 611.0,202.2 C609.3,201.0 607.5,199.9 605.4,198.5 C603.3,197.1 600.7,195.4 598.6,193.5 C596.5,191.6 594.5,189.4 593.0,187.3 C591.5,185.2 590.7,183.2 589.9,181.1 C589.1,179.0 588.4,177.6 588.1,174.9 C587.8,172.2 588.0,169.2 588.1,165.0 C588.2,160.8 588.5,155.2 589.0,149.4 C589.5,143.7 590.4,136.0 590.9,130.5 C591.4,125.0 591.3,121.7 591.8,116.2 C592.3,110.7 592.9,102.0 593.7,97.3 C594.5,92.6 594.7,91.9 596.6,87.8 C598.5,83.7 602.7,76.8 605.1,72.7 C607.5,68.6 608.1,66.4 610.8,63.2 C613.5,60.0 617.4,53.7 621.2,53.7 Z"/></clipPath>
<path d="M621.2,53.7 C625.0,53.7 630.2,60.0 633.5,63.2 C636.8,66.4 638.8,68.6 641.0,72.7 C643.2,76.8 645.1,83.7 646.7,87.8 C648.3,91.9 649.5,92.6 650.5,97.3 C651.5,102.0 651.9,110.7 652.4,116.2 C652.9,121.7 652.9,125.0 653.4,130.5 C653.9,136.0 654.6,143.7 655.2,149.4 C655.8,155.2 656.3,160.8 656.9,165.0 C657.5,169.2 658.7,172.2 658.8,174.9 C658.9,177.6 658.1,179.0 657.5,181.1 C656.9,183.2 656.4,185.2 655.1,187.3 C653.8,189.4 651.5,191.6 649.5,193.5 C647.5,195.4 645.3,197.1 643.3,198.5 C641.3,199.9 639.4,201.0 637.7,202.2 C636.0,203.4 634.5,204.7 633.3,205.9 C632.0,207.1 631.1,208.4 630.2,209.6 C629.4,210.8 629.8,212.4 628.2,213.0 C626.6,213.6 622.4,213.6 620.8,213.0 C619.2,212.4 619.4,210.8 618.5,209.6 C617.6,208.4 616.6,207.1 615.4,205.9 C614.1,204.7 612.7,203.4 611.0,202.2 C609.3,201.0 607.5,199.9 605.4,198.5 C603.3,197.1 600.7,195.4 598.6,193.5 C596.5,191.6 594.5,189.4 593.0,187.3 C591.5,185.2 590.7,183.2 589.9,181.1 C589.1,179.0 588.4,177.6 588.1,174.9 C587.8,172.2 588.0,169.2 588.1,165.0 C588.2,160.8 588.5,155.2 589.0,149.4 C589.5,143.7 590.4,136.0 590.9,130.5 C591.4,125.0 591.3,121.7 591.8,116.2 C592.3,110.7 592.9,102.0 593.7,97.3 C594.5,92.6 594.7,91.9 596.6,87.8 C598.5,83.7 602.7,76.8 605.1,72.7 C607.5,68.6 608.1,66.4 610.8,63.2 C613.5,60.0 617.4,53.7 621.2,53.7 Z" fill="url(#fur)" stroke="#2b221c" stroke-width="4" clip-path="url(#mc7)"/>
<path d="M613.5,72.0 C612.2,69.9 608.6,70.8 606.5,71.5 C604.4,72.2 602.2,74.1 601.0,76.0 C599.8,77.9 598.8,81.1 599.3,83.0 C599.8,84.9 602.2,86.7 604.0,87.5 C605.8,88.3 608.3,88.6 610.0,88.0 C611.7,87.4 613.4,86.7 614.0,84.0 C614.6,81.3 614.8,74.1 613.5,72.0 Z" fill="#8e6e5c"/>
<path d="M611.5,75.0 C610.7,73.5 607.4,74.2 606.0,75.0 C604.6,75.8 602.9,78.3 603.0,80.0 C603.1,81.7 605.2,84.3 606.5,85.0 C607.8,85.7 610.2,85.7 611.0,84.0 C611.8,82.3 612.3,76.5 611.5,75.0 Z" fill="#b89a86" opacity="0.9"/>
<path d="M639.5,74.0 C640.7,72.2 644.6,72.7 647.0,73.0 C649.4,73.3 652.6,74.6 654.0,76.0 C655.4,77.4 655.8,79.8 655.5,81.5 C655.2,83.2 654.2,85.6 652.5,86.5 C650.8,87.4 647.1,87.5 645.0,87.0 C642.9,86.5 640.9,85.7 640.0,83.5 C639.1,81.3 638.3,75.8 639.5,74.0 Z" fill="#8e6e5c"/>
<path d="M642.0,76.5 C642.8,75.4 646.3,75.9 648.0,76.5 C649.7,77.1 651.9,78.7 652.0,80.0 C652.1,81.3 650.0,84.0 648.5,84.5 C647.0,85.0 644.1,84.3 643.0,83.0 C641.9,81.7 641.2,77.6 642.0,76.5 Z" fill="#b89a86" opacity="0.9"/>
</g>
<text x="411.20" y="241.00" font-size="14" font-weight="bold" font-style="normal" text-anchor="start" fill="#000" >WT</text>
<text x="500.00" y="240.60" font-size="14.5" font-weight="bold" font-style="italic" text-anchor="start" fill="#000" >Rcan2<tspan font-size="10" dy="-4.8" dx="-0.3">−/−</tspan></text>
<text x="592.30" y="240.60" font-size="14.5" font-weight="bold" font-style="italic" text-anchor="start" fill="#000" >Rps6kb1<tspan font-size="10" dy="-4.8" dx="-0.3">−/−</tspan></text>
<line x1="58.00" y1="306.50" x2="58.00" y2="507.80" stroke="#000" stroke-width="2.0" />
<line x1="57.00" y1="506.80" x2="344.50" y2="506.80" stroke="#000" stroke-width="2.0" />
<line x1="52.80" y1="506.80" x2="58.00" y2="506.80" stroke="#000" stroke-width="1.8" />
<text x="50.60" y="512.00" font-size="12.8" font-weight="bold" font-style="normal" text-anchor="end" fill="#000" >10</text>
<line x1="52.80" y1="467.00" x2="58.00" y2="467.00" stroke="#000" stroke-width="1.8" />
<text x="50.60" y="472.20" font-size="12.8" font-weight="bold" font-style="normal" text-anchor="end" fill="#000" >12</text>
<line x1="52.80" y1="427.20" x2="58.00" y2="427.20" stroke="#000" stroke-width="1.8" />
<text x="50.60" y="432.40" font-size="12.8" font-weight="bold" font-style="normal" text-anchor="end" fill="#000" >14</text>
<line x1="52.80" y1="387.40" x2="58.00" y2="387.40" stroke="#000" stroke-width="1.8" />
<text x="50.60" y="392.60" font-size="12.8" font-weight="bold" font-style="normal" text-anchor="end" fill="#000" >16</text>
<line x1="52.80" y1="347.60" x2="58.00" y2="347.60" stroke="#000" stroke-width="1.8" />
<text x="50.60" y="352.80" font-size="12.8" font-weight="bold" font-style="normal" text-anchor="end" fill="#000" >18</text>
<line x1="52.80" y1="307.80" x2="58.00" y2="307.80" stroke="#000" stroke-width="1.8" />
<text x="50.60" y="313.00" font-size="12.8" font-weight="bold" font-style="normal" text-anchor="end" fill="#000" >20</text>
<text transform="translate(32.0,408.2) rotate(-90)" font-size="13" font-weight="bold" text-anchor="middle">Tibia length (mm)</text>
<rect x="73.9" y="339.6" width="64.8" height="167.2" fill="#000"/>
<line x1="90.70" y1="339.00" x2="122.30" y2="339.00" stroke="#000" stroke-width="1.6" />
<rect x="169.9" y="344.4" width="62.8" height="162.4" fill="#fff" stroke="#000" stroke-width="1.6"/>
<line x1="186.30" y1="343.00" x2="216.50" y2="343.00" stroke="#000" stroke-width="1.6" />
<rect x="265.4" y="361.6" width="62.8" height="145.2" fill="url(#hatch)" stroke="#000" stroke-width="1.6"/>
<line x1="281.20" y1="360.10" x2="313.50" y2="360.10" stroke="#000" stroke-width="1.8" />
<line x1="106.00" y1="306.40" x2="294.50" y2="306.40" stroke="#000" stroke-width="1.9" stroke-dasharray="1.8 3.86" stroke-linecap="butt"/>
<line x1="106.00" y1="309.00" x2="106.00" y2="336.00" stroke="#000" stroke-width="1.9" stroke-dasharray="1.8 3.86" stroke-linecap="butt"/>
<line x1="294.50" y1="309.00" x2="294.50" y2="358.00" stroke="#000" stroke-width="1.9" stroke-dasharray="1.8 3.86" stroke-linecap="butt"/>
<line x1="201.30" y1="329.00" x2="294.50" y2="329.00" stroke="#000" stroke-width="1.9" stroke-dasharray="1.8 3.86" stroke-linecap="butt"/>
<line x1="201.30" y1="331.50" x2="201.30" y2="342.00" stroke="#000" stroke-width="1.9" stroke-dasharray="1.8 3.86" stroke-linecap="butt"/>
<text x="202.40" y="305.80" font-size="12.5" font-weight="bold" font-style="normal" text-anchor="middle" fill="#000" letter-spacing="2.1">***</text>
<text x="249.40" y="330.60" font-size="12.5" font-weight="bold" font-style="normal" text-anchor="middle" fill="#000" letter-spacing="2.1">***</text>
<text x="104.30" y="523.60" font-size="14.3" font-weight="bold" font-style="normal" text-anchor="middle" fill="#000" >WT</text>
<text x="169.30" y="523.40" font-size="14.8" font-weight="bold" font-style="italic" text-anchor="start" fill="#000" >Rcan2<tspan font-size="10" dy="-4.8" dx="-0.5">−/−</tspan></text>
<text x="256.40" y="522.90" font-size="14.6" font-weight="bold" font-style="italic" text-anchor="start" fill="#000" >Rps6kb1<tspan font-size="10" dy="-4.8" dx="-0.3">−/−</tspan></text>
<line x1="402.00" y1="306.00" x2="402.00" y2="509.30" stroke="#000" stroke-width="2.0" />
<line x1="401.00" y1="508.30" x2="671.00" y2="508.30" stroke="#000" stroke-width="2.0" />
<line x1="397.00" y1="508.30" x2="402.00" y2="508.30" stroke="#000" stroke-width="1.8" />
<text x="394.80" y="512.60" font-size="12" font-weight="bold" font-style="normal" text-anchor="end" fill="#000" >0.0</text>
<line x1="397.00" y1="441.20" x2="402.00" y2="441.20" stroke="#000" stroke-width="1.8" />
<text x="394.80" y="445.50" font-size="12" font-weight="bold" font-style="normal" text-anchor="end" fill="#000" >0.5</text>
<line x1="397.00" y1="374.10" x2="402.00" y2="374.10" stroke="#000" stroke-width="1.8" />
<text x="394.80" y="378.40" font-size="12" font-weight="bold" font-style="normal" text-anchor="end" fill="#000" >1.0</text>
<line x1="397.00" y1="307.00" x2="402.00" y2="307.00" stroke="#000" stroke-width="1.8" />
<text x="394.80" y="311.30" font-size="12" font-weight="bold" font-style="normal" text-anchor="end" fill="#000" >1.5</text>
<text transform="translate(371.6,405.2) rotate(-90)" font-size="13.8" font-weight="bold" text-anchor="middle">Weight (g)</text>
<rect x="416.3" y="386.2" width="61.3" height="122.1" fill="#000"/>
<line x1="447.00" y1="386.20" x2="447.00" y2="374.80" stroke="#000" stroke-width="1.8" />
<line x1="432.20" y1="374.80" x2="462.00" y2="374.80" stroke="#000" stroke-width="2.0" />
<rect x="506.8" y="440.7" width="59.6" height="67.6" fill="#fff" stroke="#000" stroke-width="1.6"/>
<line x1="536.80" y1="440.00" x2="536.80" y2="431.60" stroke="#000" stroke-width="1.8" />
<line x1="521.70" y1="431.60" x2="552.10" y2="431.60" stroke="#000" stroke-width="2.0" />
<rect x="596.8" y="445.0" width="59.8" height="63.3" fill="url(#hatch)" stroke="#000" stroke-width="1.6"/>
<line x1="626.70" y1="444.50" x2="626.70" y2="435.10" stroke="#000" stroke-width="1.8" />
<line x1="611.70" y1="435.10" x2="641.50" y2="435.10" stroke="#000" stroke-width="2.0" />
<line x1="447.00" y1="329.30" x2="626.70" y2="329.30" stroke="#000" stroke-width="1.9" stroke-dasharray="1.8 3.6" stroke-linecap="butt"/>
<line x1="447.00" y1="332.00" x2="447.00" y2="373.00" stroke="#000" stroke-width="1.9" stroke-dasharray="1.8 3.6" stroke-linecap="butt"/>
<line x1="626.70" y1="332.00" x2="626.70" y2="433.00" stroke="#000" stroke-width="1.9" stroke-dasharray="1.8 3.6" stroke-linecap="butt"/>
<line x1="447.00" y1="354.00" x2="536.50" y2="354.00" stroke="#000" stroke-width="1.9" stroke-dasharray="1.8 3.6" stroke-linecap="butt"/>
<line x1="536.50" y1="357.00" x2="536.50" y2="430.00" stroke="#000" stroke-width="1.9" stroke-dasharray="1.8 3.6" stroke-linecap="butt"/>
<text x="494.90" y="354.40" font-size="12.5" font-weight="bold" font-style="normal" text-anchor="middle" fill="#000" >*</text>
<text x="543.80" y="330.10" font-size="12.5" font-weight="bold" font-style="normal" text-anchor="middle" fill="#000" letter-spacing="1.4">**</text>
<text x="446.80" y="522.60" font-size="14" font-weight="bold" font-style="normal" text-anchor="middle" fill="#000" >WT</text>
<text x="508.40" y="522.60" font-size="14.5" font-weight="bold" font-style="italic" text-anchor="start" fill="#000" >Rcan2<tspan font-size="10" dy="-4.8" dx="-0.3">−/−</tspan></text>
<text x="592.20" y="522.60" font-size="14.7" font-weight="bold" font-style="italic" text-anchor="start" fill="#000" >Rps6kb1<tspan font-size="10" dy="-4.8" dx="-0.3">−/−</tspan></text>
</svg>
</body></html>
